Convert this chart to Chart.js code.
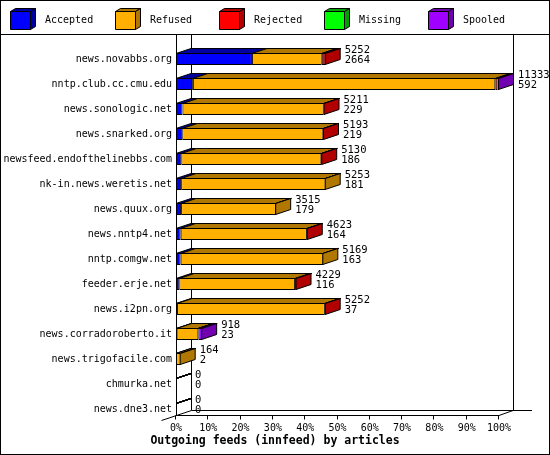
<!DOCTYPE html>
<html>
<head>
<meta charset="utf-8">
<script src="https://cdn.jsdelivr.net/npm/chart.js@4.4.1/dist/chart.umd.min.js"></script>
<style>
  html, body { margin: 0; padding: 0; background: #fff; }
  canvas { display: block; }
</style>
</head>
<body>
<canvas id="feeds" width="550" height="455"></canvas>
<script>
const hosts = [
    "news.novabbs.org", "nntp.club.cc.cmu.edu", "news.sonologic.net", "news.snarked.org",
    "newsfeed.endofthelinebbs.com", "nk-in.news.weretis.net", "news.quux.org", "news.nntp4.net",
    "nntp.comgw.net", "feeder.erje.net", "news.i2pn.org", "news.corradoroberto.it",
    "news.trigofacile.com", "chmurka.net", "news.dne3.net",
];
// numbers printed at the end of each bar
const offered = [5252, 11333, 5211, 5193, 5130, 5253, 3515, 4623, 5169, 4229, 5252, 918, 164, 0, 0];
const accepted = [2664, 592, 229, 219, 186, 181, 179, 164, 163, 116, 37, 23, 2, 0, 0];
// the other parts
const refused = [2450, 10611, 4952, 4949, 4914, 5072, 3336, 4429, 5006, 4063, 5185, 760, 162, 0, 0];
const rejected = [138, 80, 30, 25, 30, 0, 0, 30, 0, 50, 30, 0, 0, 0, 0];
const missing = [0, 0, 0, 0, 0, 0, 0, 0, 0, 0, 0, 0, 0, 0, 0];
const spooled = [0, 50, 0, 0, 0, 0, 0, 0, 0, 0, 0, 135, 0, 0, 0];
const pctTicks = [0, 10, 20, 30, 40, 50, 60, 70, 80, 90, 100];
const chartTitle = "Outgoing feeds (innfeed) by articles";

const seriesNames = ["Accepted", "Refused", "Rejected", "Missing", "Spooled"];
const seriesValues = [accepted, refused, rejected, missing, spooled];
const fronts = ["#0000ff", "#ffb000", "#ff0000", "#00ff00", "#a000ff"];
const sides = ["#0000a0", "#b07800", "#b00000", "#00a000", "#7000b0"];

const DX = 15, DY = -5;
const mono = "DejaVu Sans Mono";
const maxOffered = Math.max(...offered);
const toPct = (arr) => arr.map((v) => (v / maxOffered) * 100);

Chart.defaults.font.family = mono;
Chart.defaults.font.size = 10;
Chart.defaults.color = "#000";

const poly = (c, pts, fill) => {
    c.beginPath();
    c.moveTo(pts[0][0], pts[0][1]);
    for (let i = 1; i < pts.length; i++) c.lineTo(pts[i][0], pts[i][1]);
    c.closePath();
    if (fill) {
        c.fillStyle = fill;
        c.fill();
    }
    c.stroke();
};
const line = (c, x1, y1, x2, y2) => {
    c.beginPath();
    c.moveTo(x1, y1);
    c.lineTo(x2, y2);
    c.stroke();
};

const frame3d = {
    id: "frame3d",
    beforeDraw(chart) {
        const c = chart.ctx;
        c.save();
        c.fillStyle = "#fff";
        c.fillRect(0, 0, chart.width, chart.height);
        c.restore();
    },
    beforeDatasetsDraw(chart) {
        const c = chart.ctx;
        const { left: L, right: R } = chart.chartArea;
        const xs = chart.scales.x, ys = chart.scales.y;
        const frontY = ys.getPixelForValue(hosts.length - 1) + 6 + 0.5;
        const floorY = frontY + DY;
        const sepY = 34.5;
        c.save();
        c.strokeStyle = "#000";
        c.lineWidth = 1;
        line(c, L + 0.5, sepY, L + 0.5, frontY);
        line(c, L + DX + 0.5, sepY, L + DX + 0.5, floorY);
        line(c, L + DX + 0.5, floorY, 532, floorY);
        line(c, L + 0.5 - DX, frontY - DY, L + DX + 0.5, floorY);
        line(c, L + 0.5, frontY, R, frontY);
        line(c, R, frontY, R + DX - 1, floorY);
        const rx = Math.round(R + DX) - 0.5;
        line(c, rx, sepY, rx, floorY);
        pctTicks.forEach((v) => {
            const tx = Math.round(xs.getPixelForValue(v)) - 0.5;
            line(c, tx, frontY, tx, frontY + 4);
        });
        c.restore();
    },
    afterDatasetsDraw(chart) {
        const c = chart.ctx;
        c.save();
        c.strokeStyle = "#000";
        c.lineWidth = 1;
        hosts.forEach((h, i) => {
            let last = -1, xEnd = chart.chartArea.left, yc = 0, hh = 6;
            seriesNames.forEach((s, k) => {
                const el = chart.getDatasetMeta(k).data[i];
                const p = el.getProps(["x", "base", "y", "height"], true);
                const T = p.y - p.height / 2 + 0.5;
                const b = Math.min(p.base, p.x), e = Math.max(p.base, p.x);
                yc = p.y;
                hh = p.height / 2;
                poly(c, [[b, T], [e, T], [e + DX, T + DY], [b + DX, T + DY]], e - b > 0.2 ? sides[k] : null);
                if (e - b > 0.2) {
                    last = k;
                    xEnd = e;
                }
            });
            const T = yc - hh + 0.5, B = yc + hh - 0.5;
            if (last >= 0) {
                const xe = xEnd - 0.5;
                poly(c, [[xe, T], [xe + DX, T + DY], [xe + DX, B + DY], [xe, B]], sides[last]);
            }
            c.fillStyle = "#000";
            c.font = "10.5px " + mono;
            c.textAlign = "left";
            c.textBaseline = "middle";
            const tx = Math.max(xEnd, chart.chartArea.left) + DX + 4;
            c.fillText(String(offered[i]), tx, yc - 9);
            c.fillText(String(accepted[i]), tx, yc + 1);
        });
        c.restore();
    },
    afterDraw(chart) {
        const c = chart.ctx;
        c.save();
        c.strokeStyle = "#000";
        c.lineWidth = 1;
        // legend boxes
        seriesNames.forEach((name, k) => {
            const bx = 10 + k * 104.5, by = 11;
            const x0 = Math.round(bx) + 0.5;
            poly(c, [[x0, by + 0.5], [x0 + 5, by - 2.5], [x0 + 25, by - 2.5], [x0 + 20, by + 0.5]], sides[k]);
            poly(c, [[x0 + 20, by + 0.5], [x0 + 25, by - 2.5], [x0 + 25, by + 15.5], [x0 + 20, by + 18.5]], sides[k]);
            poly(c, [[x0, by + 0.5], [x0 + 20, by + 0.5], [x0 + 20, by + 18.5], [x0, by + 18.5]], fronts[k]);
            c.fillStyle = "#000";
            c.font = "10px " + mono;
            c.textAlign = "left";
            c.textBaseline = "middle";
            c.fillText(name, Math.round(bx) + 35, 20);
        });
        // title, centred on the whole picture
        c.fillStyle = "#000";
        c.font = "bold 11.5px " + mono;
        c.textAlign = "center";
        c.textBaseline = "middle";
        c.fillText(chartTitle, chart.width / 2, 441);
        line(c, 0, 34.5, chart.width, 34.5);
        c.strokeRect(0.5, 0.5, chart.width - 1, chart.height - 1);
        c.restore();
    },
};

const datasets = seriesNames.map((name, k) => ({
    label: name,
    data: toPct(seriesValues[k]),
    backgroundColor: fronts[k],
    borderColor: "#000",
    borderWidth: 1,
    borderSkipped: false,
    inflateAmount: 0,
    barThickness: 12,
}));

const ctx = document.getElementById("feeds").getContext("2d");
const feedChart = new Chart(ctx, {
    type: "bar",
    data: { labels: hosts, datasets: datasets },
    options: {
        indexAxis: "y",
        responsive: false,
        animation: false,
        devicePixelRatio: 1,
        layout: { padding: { top: 46.5, right: 51, bottom: 20.8, left: 0 } },
        scales: {
            x: {
                type: "linear",
                stacked: true,
                min: 0,
                max: 100,
                grid: { display: false, drawTicks: false },
                border: { display: false },
                ticks: { padding: 1, maxRotation: 0, callback: (v) => v + "%" },
                afterBuildTicks: (s) => {
                    s.ticks = pctTicks.map((v) => ({ value: v }));
                },
                afterFit: (s) => {
                    s.height = 12.7;
                },
            },
            y: {
                stacked: true,
                grid: { display: false, drawTicks: false },
                border: { display: false },
                ticks: { autoSkip: false, padding: 4 },
                afterFit: (s) => {
                    s.width = 176;
                },
            },
        },
        plugins: {
            legend: { display: false },
            tooltip: { enabled: false },
            title: { display: false },
        },
    },
    plugins: [frame3d],
});
</script>
</body>
</html>
